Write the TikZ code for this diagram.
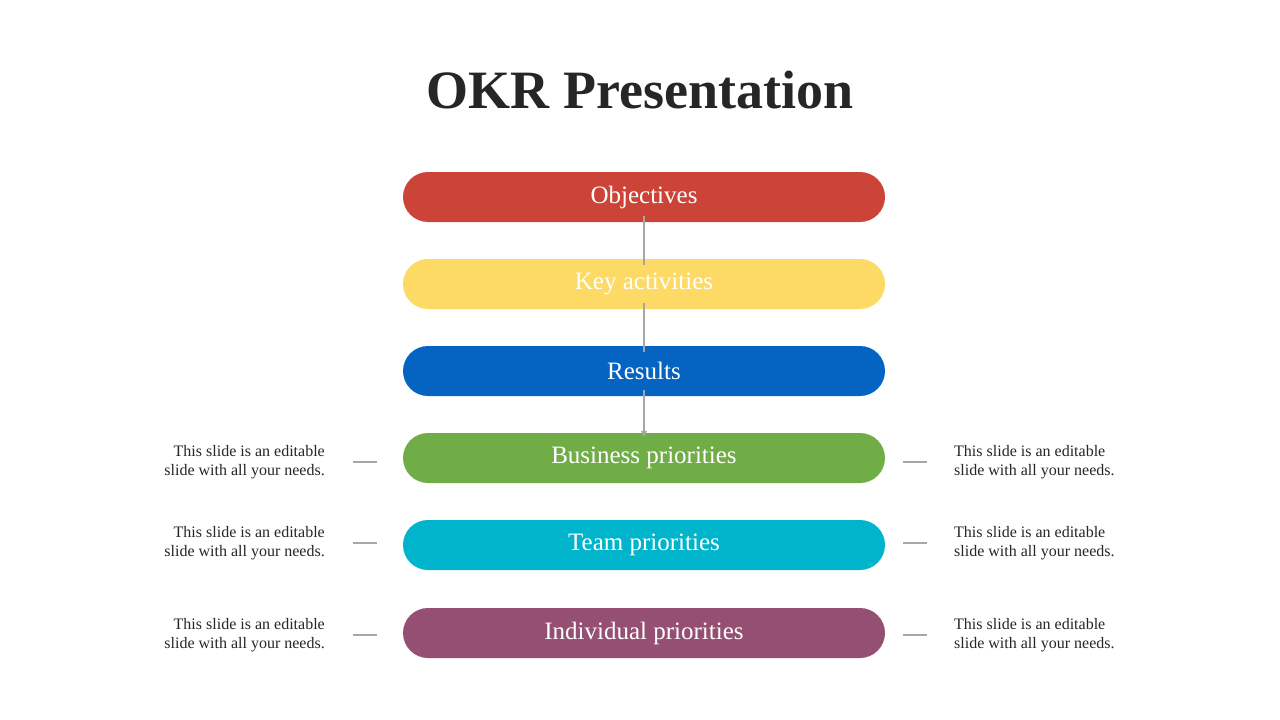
\documentclass[tikz,border=0pt]{standalone}
\usepackage{fontspec}
\setmainfont{Liberation Serif}
\usetikzlibrary{arrows.meta}
\definecolor{cred}{HTML}{CC4438}
\definecolor{cyel}{HTML}{FDD966}
\definecolor{cblu}{HTML}{0563C1}
\definecolor{cgrn}{HTML}{70AD47}
\definecolor{ccyn}{HTML}{00B4CC}
\definecolor{cpur}{HTML}{954F72}
\definecolor{ctxt}{HTML}{262626}
\definecolor{cline}{HTML}{A6A6A6}
\begin{document}
\begin{tikzpicture}[x=1pt,y=-1pt,
  pill/.style={rounded corners=25pt,minimum width=482pt,minimum height=50pt,inner sep=0pt,text=white,font=\fontsize{25}{28}\selectfont},
  side/.style={align=#1,font=\fontsize{16}{19}\selectfont,text=ctxt,inner sep=0pt},
  conn/.style={draw=cline,line width=1.3pt}]
\useasboundingbox[fill=white] (0,0) rectangle (1280,720);
\node[font=\fontsize{54}{60}\selectfont\bfseries,text=ctxt] (title) at (640,90) {OKR Presentation};
\node[pill,fill=cred] (o) at (644,197) {Objectives};
\node[pill,fill=cyel] (k) at (644,284) {Key activities};
\node[pill,fill=cblu] (r) at (644,371) {Results};
\node[pill,fill=cgrn] (b) at (644,458) {Business priorities};
\node[pill,fill=ccyn] (t) at (644,545) {Team priorities};
\node[pill,fill=cpur] (i) at (644,633) {Individual priorities};
\draw[conn] ([yshift=6pt]o.south) -- ([yshift=-6pt]k.north);
\draw[conn] ([yshift=6pt]k.south) -- ([yshift=-6pt]r.north);
\draw[conn,-{Triangle[length=6pt,width=6pt]}] ([yshift=6pt]r.south) -- ([yshift=-4pt]b.north);
\foreach \n/\y in {b/462,t/543,i/635}{
  \coordinate (l1\n) at (353,\y); \coordinate (l2\n) at (377,\y);
  \coordinate (r1\n) at (903,\y); \coordinate (r2\n) at (927,\y);
  \draw[conn] (l1\n) -- (l2\n);
  \draw[conn] (r1\n) -- (r2\n);
  \node[side=right,anchor=east] (sl\n) at (325,\y) {This slide is an editable\\slide with all your needs.};
  \node[side=left,anchor=west] (sr\n) at (954,\y) {This slide is an editable\\slide with all your needs.};
}
\end{tikzpicture}
\end{document}
